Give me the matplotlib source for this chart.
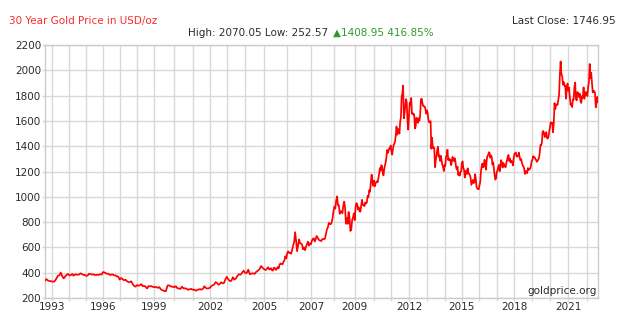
import numpy as np
import matplotlib
matplotlib.use("Agg")
import matplotlib.pyplot as plt
from matplotlib.ticker import FixedLocator, FixedFormatter

# month-start closes, Aug 1992 .. Dec 2004 (USD/oz)
MONTHLY_1992_2004 = [
    338, 349, 339, 334, 333,
    330, 328, 337, 355, 376, 378, 401, 372, 355, 369, 383, 390,
    378, 381, 390, 376, 387, 385, 384, 386, 395, 389, 383, 383,
    375, 377, 391, 389, 385, 387, 383, 382, 384, 383, 387, 386,
    405, 402, 396, 392, 391, 382, 385, 386, 379, 379, 371, 369,
    345, 358, 349, 340, 345, 334, 326, 325, 332, 311, 296, 290,
    302, 297, 301, 310, 293, 296, 289, 275, 294, 292, 294, 288,
    286, 288, 280, 286, 268, 261, 255, 253, 299, 300, 291, 290,
    284, 294, 278, 275, 272, 290, 276, 277, 273, 264, 270, 272,
    265, 266, 258, 264, 267, 270, 266, 273, 293, 279, 275, 277,
    282, 296, 301, 308, 326, 318, 305, 312, 324, 316, 319, 348,
    367, 348, 334, 336, 364, 346, 354, 375, 388, 384, 398, 416,
    400, 397, 424, 388, 393, 395, 391, 407, 416, 428, 453, 438,
]

# twice-a-month closes, Jan 2005 .. Aug 2022 (USD/oz)
HALF_MONTHLY_2005_2022 = [
    427, 422, 424, 434, 443, 428, 426, 436, 420, 417, 440, 437,
    422, 430, 445, 434, 464, 473, 470, 466, 486, 495, 530, 513,
    555, 569, 555, 556, 550, 583, 615, 644, 720, 653, 570, 614,
    663, 633, 630, 624, 585, 600, 578, 604, 625, 646, 614, 632,
    625, 652, 666, 672, 647, 663, 689, 679, 665, 656, 654, 650,
    665, 667, 664, 672, 709, 743, 758, 794, 786, 783, 797, 834,
    888, 923, 907, 971, 1003, 933, 933, 865, 885, 885, 870, 930,
    962, 918, 786, 833, 786, 880, 840, 730, 740, 815, 838, 869,
    815, 919, 950, 942, 900, 916, 885, 883, 927, 976, 935, 934,
    926, 955, 946, 955, 1007, 996, 1051, 1040, 1115, 1175, 1119, 1087,
    1128, 1083, 1102, 1116, 1122, 1115, 1150, 1180, 1227, 1207, 1250, 1244,
    1195, 1169, 1215, 1246, 1270, 1307, 1370, 1346, 1365, 1383, 1382, 1405,
    1360, 1333, 1374, 1409, 1420, 1439, 1486, 1556, 1491, 1536, 1529, 1500,
    1594, 1628, 1795, 1813, 1880, 1620, 1664, 1722, 1773, 1746, 1598, 1531,
    1639, 1744, 1729, 1781, 1656, 1662, 1651, 1651, 1540, 1558, 1625, 1598,
    1585, 1622, 1602, 1648, 1770, 1776, 1741, 1719, 1714, 1714, 1696, 1657,
    1683, 1664, 1610, 1588, 1592, 1598, 1380, 1467, 1387, 1394, 1382, 1234,
    1290, 1323, 1370, 1396, 1317, 1327, 1283, 1324, 1285, 1253, 1234, 1204,
    1251, 1244, 1318, 1326, 1372, 1291, 1303, 1288, 1294, 1250, 1274, 1315,
    1300, 1282, 1305, 1285, 1233, 1216, 1238, 1173, 1190, 1167, 1195, 1199,
    1262, 1280, 1227, 1213, 1152, 1187, 1208, 1180, 1225, 1190, 1181, 1171,
    1147, 1094, 1115, 1133, 1108, 1115, 1179, 1142, 1077, 1064, 1061, 1060,
    1091, 1116, 1200, 1238, 1263, 1233, 1238, 1293, 1273, 1214, 1290, 1321,
    1330, 1352, 1346, 1309, 1327, 1315, 1255, 1273, 1223, 1173, 1136, 1146,
    1197, 1208, 1234, 1252, 1202, 1249, 1290, 1266, 1231, 1268, 1255, 1242,
    1233, 1268, 1290, 1319, 1330, 1283, 1302, 1271, 1283, 1275, 1248, 1303,
    1339, 1345, 1350, 1318, 1318, 1325, 1349, 1315, 1290, 1299, 1270, 1250,
    1240, 1224, 1180, 1202, 1200, 1187, 1227, 1214, 1215, 1223, 1241, 1281,
    1289, 1321, 1314, 1313, 1301, 1292, 1277, 1283, 1296, 1305, 1345, 1409,
    1407, 1427, 1515, 1520, 1500, 1472, 1489, 1511, 1465, 1460, 1476, 1515,
    1550, 1589, 1585, 1585, 1510, 1577, 1740, 1694, 1730, 1726, 1727, 1768,
    1810, 1965, 2070.05, 1967, 1955, 1886, 1907, 1878, 1880, 1776, 1858, 1895,
    1840, 1863, 1788, 1728, 1730, 1709, 1770, 1768, 1868, 1903, 1775, 1763,
    1828, 1814, 1790, 1815, 1755, 1742, 1797, 1783, 1865, 1774, 1803, 1829,
    1820, 1796, 1870, 1909, 2050, 1937, 1980, 1896, 1825, 1839, 1835, 1817,
    1707, 1765, 1790, 1746.95,
]

HIGH = 2070.05
LOW = 252.57
FIRST = 338.00
LAST_CLOSE = 1746.95

# labelled years on the time axis; every year gets a grid line
LABEL_YEARS = [1993, 1996, 1999, 2002, 2005, 2007, 2009, 2012, 2015, 2018, 2021]
Y_TICKS = list(range(200, 2201, 200))

# relative width of each calendar year (1992..2022) on the time axis
YEAR_WIDTH = [17.3, 17.3, 16.7, 17.0, 16.6, 17.4, 17.3, 20.0, 18.7, 17.3, 16.7,
              18.3, 19.3, 23.0, 23.7, 22.7, 21.3, 19.3, 17.4, 17.6, 18.0, 17.7,
              17.3, 17.7, 17.3, 17.7, 18.0, 17.6, 18.4, 18.4, 18.4]

edges = np.arange(1992, 1992 + len(YEAR_WIDTH) + 1, dtype=float)
cum = np.concatenate([[0.0], np.cumsum(YEAR_WIDTH)])


def fwd(x):
    return np.interp(x, edges, cum)


def inv(y):
    return np.interp(y, cum, edges)


t1 = 1992 + 7 / 12 + np.arange(len(MONTHLY_1992_2004)) / 12
t2 = 2005 + np.arange(len(HALF_MONTHLY_2005_2022)) / 24
t = np.concatenate([t1, t2])
price = np.concatenate([MONTHLY_1992_2004, HALF_MONTHLY_2005_2022])

change = LAST_CLOSE - FIRST
pct = change / FIRST * 100

GRID = "#d9d9d9"
TXT = "#2b2b2b"
FS = 7.5

plt.rcParams["font.family"] = ["DejaVu Sans"]
fig = plt.figure(figsize=(6.24, 3.24), dpi=100)
ax = fig.add_axes([45 / 624, 26 / 324, 553.3 / 624, 253 / 324])
ax.set_xscale("function", functions=(fwd, inv))

ax.plot(t, price, color="#ff0000", lw=1.25, zorder=3)

ax.set_xlim(t[0], t[-1] + 0.01)
ax.set_ylim(200, 2200)

all_years = list(range(1993, 2023))
ax.xaxis.set_major_locator(FixedLocator(all_years))
ax.xaxis.set_major_formatter(FixedFormatter(
    [str(y) if y in LABEL_YEARS else "" for y in all_years]))
ax.set_yticks(Y_TICKS)

ax.grid(True, color=GRID, lw=1.0, zorder=0)
ax.tick_params(axis="both", colors=GRID, labelcolor=TXT, labelsize=FS,
               length=2, width=1.0)
ax.tick_params(axis="x", pad=1.2)
ax.tick_params(axis="y", pad=0.8)
for s in ax.spines.values():
    s.set_color("#cccccc")
    s.set_linewidth(1.0)

ax.text(0.997, 0.026, "goldprice.org", transform=ax.transAxes,
        ha="right", va="center", fontsize=FS, color=TXT)

fig.text(9 / 624, 1 - 20.7 / 324, "30 Year Gold Price in USD/oz",
         ha="left", va="center", fontsize=FS, color="#ff2a2a")
fig.text(616 / 624, 1 - 20.7 / 324, f"Last Close: {LAST_CLOSE:.2f}",
         ha="right", va="center", fontsize=FS, color=TXT)
fig.text(331 / 624, 1 - 32.7 / 324, f"High: {HIGH:.2f} Low: {LOW:.2f} ",
         ha="right", va="center", fontsize=FS, color=TXT)
fig.text(333 / 624, 1 - 32.7 / 324, f"\u25b2{change:.2f} {pct:.2f}%",
         ha="left", va="center", fontsize=FS, color="#2e9a2e")

fig.savefig("out.png", dpi=100)
